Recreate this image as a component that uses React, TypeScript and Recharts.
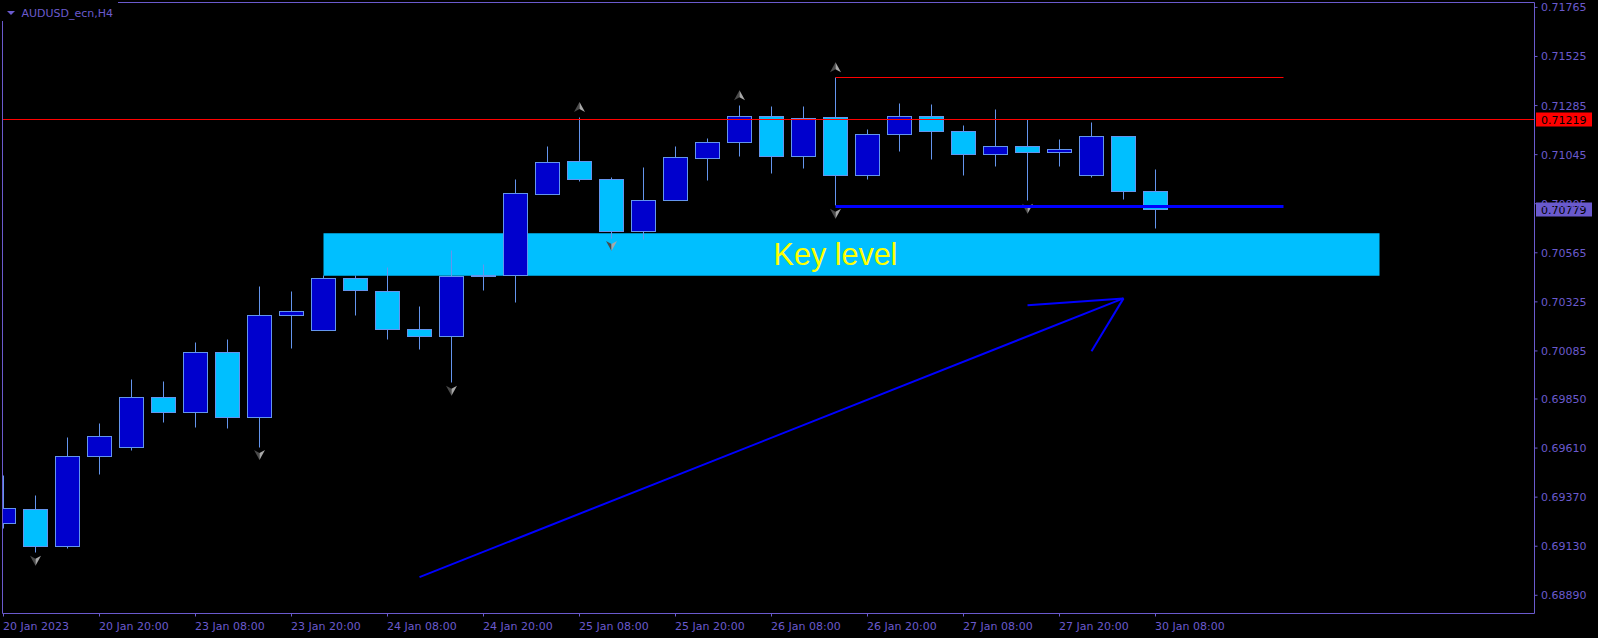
import React from "react";
import {
  ComposedChart,
  Bar,
  XAxis,
  YAxis,
  ReferenceLine,
  ReferenceArea,
  ReferenceDot,
} from "recharts";

// ---- data (AUDUSD_ecn, H4) ----
const opens = [
  0.69242, 0.6931, 0.69127, 0.69567, 0.69611, 0.69858, 0.69783, 0.70078, 0.69758, 0.70257,
  0.70184, 0.7044, 0.70376, 0.7019, 0.70154, 0.70448, 0.70455, 0.70851, 0.71012, 0.70925,
  0.70668, 0.70821, 0.71025, 0.71105, 0.71232, 0.71036, 0.71227, 0.70942, 0.71142, 0.71232,
  0.71159, 0.71044, 0.71085, 0.71054, 0.70942, 0.71134, 0.70865,
];
const highs = [
  0.69478, 0.6938, 0.69664, 0.69732, 0.69943, 0.69938, 0.70128, 0.70143, 0.70402, 0.70378,
  0.70453, 0.70453, 0.70492, 0.70304, 0.70578, 0.70508, 0.70925, 0.71087, 0.71229, 0.70935,
  0.70984, 0.71087, 0.71126, 0.71287, 0.71282, 0.71278, 0.71423, 0.7117, 0.71297, 0.71291,
  0.71189, 0.71268, 0.71219, 0.71121, 0.71204, 0.71134, 0.70974,
];
const lows = [
  0.69217, 0.69098, 0.69118, 0.69479, 0.696, 0.69737, 0.69713, 0.69708, 0.69615, 0.70099,
  0.70183, 0.70257, 0.7014, 0.70094, 0.69929, 0.70383, 0.70321, 0.7085, 0.70912, 0.70637,
  0.70631, 0.7082, 0.70917, 0.71034, 0.70951, 0.70976, 0.70795, 0.70925, 0.71062, 0.71023,
  0.70942, 0.70986, 0.70819, 0.70989, 0.70935, 0.70828, 0.70682,
];
const closes = [
  0.69315, 0.69127, 0.69569, 0.69667, 0.69858, 0.69783, 0.70078, 0.69758, 0.70259, 0.70278,
  0.7044, 0.70379, 0.7019, 0.70154, 0.7045, 0.70453, 0.70855, 0.71007, 0.70922, 0.70668,
  0.70821, 0.71032, 0.71105, 0.71232, 0.71036, 0.7122, 0.70942, 0.71144, 0.71232, 0.71157,
  0.71044, 0.71085, 0.71054, 0.71071, 0.71134, 0.70863, 0.70779,
];
const fractalUpIdx = [18, 23, 26];
const fractalDownIdx = [1, 8, 14, 19, 26, 32];

const timeTickIdx = [0, 3, 6, 9, 12, 15, 18, 21, 24, 27, 30, 33, 36];
const timeTickLabels = [
  "20 Jan 2023", "20 Jan 20:00", "23 Jan 08:00", "23 Jan 20:00", "24 Jan 08:00",
  "24 Jan 20:00", "25 Jan 08:00", "25 Jan 20:00", "26 Jan 08:00", "26 Jan 20:00",
  "27 Jan 08:00", "27 Jan 20:00", "30 Jan 08:00",
];
const priceTicks = [
  0.71765, 0.71525, 0.71285, 0.71045, 0.70805, 0.70565, 0.70325, 0.70085, 0.6985,
  0.6961, 0.6937, 0.6913, 0.6889,
];

const xDomain = [-0.03125, 47.84375];
const yDomain = [0.68801, 0.71789];

const redLevel = 0.71219;
const bidPrice = 0.70779;

const keyLevelX = [10, 43];
const keyLevelY = [0.70453, 0.70661];
const keyLabelPos = [26, 0.70558];

const rangeX = [26, 40];
const rangeTopPrice = 0.71423;
const rangeBottomPrice = 0.70792;

const trendX = [13, 35];
const trendY = [0.68979, 0.70342];
const wingAX = [32, 35];
const wingAY = [0.70309, 0.70342];
const wingBX = [34, 35];
const wingBY = [0.70084, 0.70342];

const candles = opens.map((o, i) => ({
  i,
  open: o,
  high: highs[i],
  low: lows[i],
  close: closes[i],
  fu: fractalUpIdx.includes(i),
  fd: fractalDownIdx.includes(i),
}));

// ---- styles ----
const AXIS = "#6a5acd";
const BULL = "#0000cd";
const BEAR = "#00bfff";
const EDGE = "#6495ed";
const FONT = "DejaVu Sans, sans-serif";

const snap = (v: number) => Math.round(v - 0.5) + 0.5;

const CandleShape = (props: any) => {
  const { x, y, width, height, payload } = props;
  if (x == null || y == null || !payload) return null;
  const top = Math.min(y, y + height);
  const bot = Math.max(y, y + height);
  const { open, high, low, close } = payload;
  const span = high - low;
  const py = (p: number) => (span === 0 ? top : top + ((high - p) / span) * (bot - top));
  const cx = x + width / 2;
  const bull = close >= open;
  const bt = snap(py(Math.max(open, close)));
  const bb = snap(py(Math.min(open, close)));
  const half = 5.5;
  let up = null;
  let down = null;
  if (payload.fu) {
    const t = top - 15;
    up = (
      <g>
        <polygon points={`${cx},${t} ${cx},${t + 7} ${cx - half},${t + 10}`} fill="#4a4a4a" />
        <polygon points={`${cx},${t} ${cx + half},${t + 10} ${cx},${t + 7}`} fill="#a8a8a8" />
      </g>
    );
  }
  if (payload.fd) {
    const t = bot + 3;
    down = (
      <g>
        <polygon points={`${cx},${t + 10} ${cx - half},${t} ${cx},${t + 3}`} fill="#4a4a4a" />
        <polygon points={`${cx},${t + 10} ${cx},${t + 3} ${cx + half},${t}`} fill="#a8a8a8" />
      </g>
    );
  }
  return (
    <g>
      <line x1={cx} x2={cx} y1={snap(top)} y2={snap(bot)} stroke={EDGE} strokeWidth={1} />
      <rect
        x={cx - 12}
        y={bt}
        width={24}
        height={Math.max(bb - bt, 1)}
        fill={bull ? BULL : BEAR}
        stroke={EDGE}
        strokeWidth={1}
      />
      {up}
      {down}
    </g>
  );
};

// horizontal line drawn on whole pixels so 1px / 3px strokes stay crisp
const CrispHLine = (p: any) => {
  if (p.x1 == null || p.y1 == null) return null;
  const yy = snap(p.y1);
  return (
    <line
      x1={p.x1}
      x2={p.x2}
      y1={yy}
      y2={yy}
      stroke={p.stroke}
      strokeWidth={p.strokeWidth}
    />
  );
};

const TimeTick = (props: any) => {
  const { x, y, payload } = props;
  const idx = timeTickIdx.indexOf(payload.value);
  return (
    <text x={x - 0.5} y={y + 11} fill={AXIS} fontFamily={FONT} fontSize={11} textAnchor="start">
      {timeTickLabels[idx]}
    </text>
  );
};

const PriceTick = (props: any) => {
  const { x, y, payload } = props;
  return (
    <text x={x + 1.5} y={y + 4} fill={AXIS} fontFamily={FONT} fontSize={11} textAnchor="start">
      {Number(payload.value).toFixed(5)}
    </text>
  );
};

const priceBox = (value: number, bg: string) => (p: any) => {
  const vb = p.viewBox || {};
  const right = (vb.x || 0) + (vb.width || 0);
  const yy = Math.round(vb.y || 0);
  return (
    <g>
      <rect x={right + 1.5} y={yy - 6.5} width={56} height={14} fill={bg} />
      <text x={right + 6.5} y={yy + 4.5} fill="#000000" fontFamily={FONT} fontSize={11}>
        {value.toFixed(5)}
      </text>
    </g>
  );
};

const KeyLabel = (p: any) => {
  const vb = p.viewBox || {};
  const cx = (vb.x || 0) + (vb.width || 0) / 2;
  const cy = (vb.y || 0) + (vb.height || 0) / 2;
  return (
    <text
      x={cx}
      y={cy + 11}
      fill="#ffff00"
      fontFamily="Liberation Sans, Arial, sans-serif"
      fontSize={30.5}
      textAnchor="middle"
    >
      Key level
    </text>
  );
};

export default function App() {
  return (
    <div style={{ position: "absolute", left: 0, top: 0, width: 1598, height: 638, background: "#000000" }}>
      <ComposedChart
        width={1598}
        height={638}
        data={candles}
        margin={{ top: 2.5, right: 0, bottom: 0, left: 2.5 }}
      >
        <XAxis
          type="number"
          dataKey="i"
          domain={xDomain}
          allowDataOverflow
          ticks={timeTickIdx}
          interval={0}
          tick={<TimeTick />}
          tickSize={3}
          tickLine={{ stroke: AXIS }}
          axisLine={false}
          height={24.5}
        />
        <YAxis
          orientation="right"
          type="number"
          domain={yDomain}
          allowDataOverflow
          ticks={priceTicks}
          interval={0}
          tick={<PriceTick />}
          tickSize={3}
          tickLine={{ stroke: AXIS }}
          axisLine={false}
          width={63.5}
        />
        <ReferenceArea
          x1={keyLevelX[0]}
          x2={keyLevelX[1]}
          y1={keyLevelY[0]}
          y2={keyLevelY[1]}
          fill={BEAR}
          fillOpacity={1}
          stroke="none"
          ifOverflow="visible"
          zIndex={-10}
        />
        <Bar
          dataKey={(d: any) => [d.low, d.high]}
          barSize={24}
          shape={<CandleShape />}
          isAnimationActive={false}
        />
        <ReferenceLine
          y={redLevel}
          stroke="#ff0000"
          strokeWidth={1}
          ifOverflow="visible"
          zIndex={1500}
          shape={CrispHLine}
          label={priceBox(redLevel, "#ff0000")}
        />
        <ReferenceLine
          y={bidPrice}
          stroke="none"
          strokeOpacity={0}
          ifOverflow="visible"
          zIndex={1500}
          label={priceBox(bidPrice, "#6a5acd")}
        />
        <ReferenceLine
          segment={[
            { x: rangeX[0], y: rangeTopPrice },
            { x: rangeX[1], y: rangeTopPrice },
          ]}
          stroke="#ff0000"
          strokeWidth={1}
          ifOverflow="visible"
          zIndex={1500}
          shape={CrispHLine}
        />
        <ReferenceLine
          segment={[
            { x: rangeX[0], y: rangeBottomPrice },
            { x: rangeX[1], y: rangeBottomPrice },
          ]}
          stroke="#0000ff"
          strokeWidth={3}
          ifOverflow="visible"
          zIndex={1500}
          shape={CrispHLine}
        />
        <ReferenceLine
          segment={[
            { x: trendX[0], y: trendY[0] },
            { x: trendX[1], y: trendY[1] },
          ]}
          stroke="#0000ff"
          strokeWidth={2}
          ifOverflow="visible"
          zIndex={1500}
        />
        <ReferenceLine
          segment={[
            { x: wingAX[0], y: wingAY[0] },
            { x: wingAX[1], y: wingAY[1] },
          ]}
          stroke="#0000ff"
          strokeWidth={2}
          ifOverflow="visible"
          zIndex={1500}
        />
        <ReferenceLine
          segment={[
            { x: wingBX[0], y: wingBY[0] },
            { x: wingBX[1], y: wingBY[1] },
          ]}
          stroke="#0000ff"
          strokeWidth={2}
          ifOverflow="visible"
          zIndex={1500}
        />
        <ReferenceDot
          x={keyLabelPos[0]}
          y={keyLabelPos[1]}
          r={1}
          fill="none"
          stroke="none"
          ifOverflow="visible"
          zIndex={1600}
          label={KeyLabel}
        />
        <ReferenceArea
          x1={xDomain[0]}
          x2={xDomain[1]}
          y1={yDomain[0]}
          y2={yDomain[1]}
          fill="none"
          fillOpacity={0}
          stroke={AXIS}
          strokeWidth={1}
          ifOverflow="visible"
          zIndex={1700}
        />
      </ComposedChart>
      <div style={{ position: "absolute", left: 0, top: 0, width: 118, height: 21, background: "#000000" }}>
        <svg width={118} height={21}>
          <polygon points="7,11 15,11 11,15" fill={AXIS} />
          <text x={21.5} y={16.5} fill={AXIS} fontFamily={FONT} fontSize={11}>
            AUDUSD_ecn,H4
          </text>
        </svg>
      </div>
    </div>
  );
}
